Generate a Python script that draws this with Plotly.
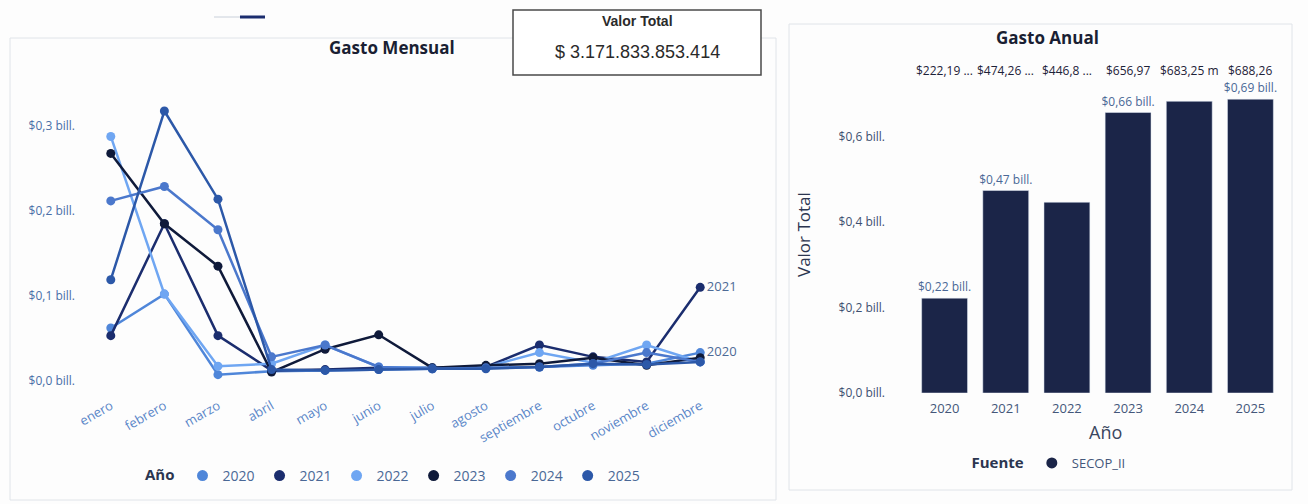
import plotly.graph_objects as go

W, H = 1308, 504

# monthly spend per year (billions of pesos)
meses = ["enero", "febrero", "marzo", "abril", "mayo", "junio", "julio",
         "agosto", "septiembre", "octubre", "noviembre", "diciembre"]
anios = ["2020", "2021", "2022", "2023", "2024", "2025"]
g2020 = [0.062, 0.102, 0.007, 0.011, 0.012, 0.013, 0.014, 0.015, 0.016, 0.018, 0.020, 0.033]
g2021 = [0.053, 0.185, 0.053, 0.012, 0.013, 0.015, 0.015, 0.016, 0.042, 0.028, 0.022, 0.110]
g2022 = [0.288, 0.102, 0.017, 0.020, 0.042, 0.016, 0.015, 0.016, 0.033, 0.021, 0.042, 0.022]
g2023 = [0.268, 0.185, 0.135, 0.010, 0.037, 0.054, 0.015, 0.018, 0.020, 0.027, 0.018, 0.027]
g2024 = [0.212, 0.229, 0.178, 0.028, 0.042, 0.016, 0.014, 0.015, 0.016, 0.020, 0.033, 0.022]
g2025 = [0.119, 0.318, 0.214, 0.013, 0.012, 0.013, 0.014, 0.014, 0.016, 0.020, 0.019, 0.022]
mensual = [g2020, g2021, g2022, g2023, g2024, g2025]
colores = ["#4f86d9", "#1b2d6e", "#6fa6f2", "#0f1a3a", "#4b78cc", "#2c58a8"]
etiqueta_fin = ["2020", "2021", "", "", "", ""]

# yearly totals
anual = [0.22219, 0.47426, 0.4468, 0.65697, 0.68325, 0.68826]
anual_txt = ["$0,22 bill.", "$0,47 bill.", "", "$0,66 bill.", "", "$0,69 bill."]
anual_top = ["$222,19 ...", "$474,26 ...", "$446,8 ...", "$656,97", "$683,25 m", "$688,26"]
valor_total = "$ 3.171.833.853.414"

ytick_m = [0, 0.1, 0.2, 0.3]
ytxt_m = ["$0,0 bill.", "$0,1 bill.", "$0,2 bill.", "$0,3 bill."]
ytick_a = [0, 0.2, 0.4, 0.6]
ytxt_a = ["$0,0 bill.", "$0,2 bill.", "$0,4 bill.", "$0,6 bill."]

FONT = "Open Sans"
px_x = lambda p: p / W
px_y = lambda p: 1 - p / H

fig = go.Figure()

for anio, vals, col, lab in zip(anios, mensual, colores, etiqueta_fin):
    txt = [""] * (len(meses) - 1) + [lab]
    fig.add_trace(go.Scatter(
        x=meses, y=vals, mode="lines+markers+text", name=anio,
        line=dict(color=col, width=2.5), marker=dict(color=col, size=9),
        text=txt, textposition="middle right",
        textfont=dict(family=FONT, size=13, color="#4d6a96"),
        showlegend=False, xaxis="x", yaxis="y", cliponaxis=False))
    # legend entry shown as a dot only
    fig.add_trace(go.Scatter(
        x=[None], y=[None], mode="markers", name=anio,
        marker=dict(color=col, size=11), legend="legend", xaxis="x", yaxis="y"))

fig.add_trace(go.Bar(
    x=anios, y=anual, marker_color="#1b2548", name="SECOP_II",
    text=anual_txt, textposition="outside", cliponaxis=False, constraintext="none",
    textfont=dict(family=FONT, size=12, color="#4a6896"),
    xaxis="x2", yaxis="y2", showlegend=False))
fig.add_trace(go.Scatter(
    x=[None], y=[None], mode="markers", name="SECOP_II",
    marker=dict(color="#1b2548", size=11), legend="legend2", xaxis="x2", yaxis="y2"))

# truncated total labels above the bars (category index, so "2020" isn't read as a number)
for i, t in enumerate(anual_top):
    fig.add_annotation(x=i, xref="x2", y=px_y(71), yref="paper", yanchor="middle",
                       text=t, showarrow=False,
                       font=dict(family=FONT, size=12, color="#1d2238"))

fig.update_layout(
    width=W, height=H, margin=dict(l=0, r=0, t=0, b=0, autoexpand=False),
    paper_bgcolor="#fdfdfd", plot_bgcolor="rgba(0,0,0,0)",
    font=dict(family=FONT, color="#4a6896"),
    bargap=0.25,
    xaxis=dict(domain=[px_x(84), px_x(727)], range=[-0.5, 11.5], tickangle=-30,
               anchor="y", automargin=False,
               showgrid=False, zeroline=False, showline=False, ticks="",
               tickfont=dict(size=13, color="#5a86c8")),
    yaxis=dict(domain=[px_y(395), px_y(100)], range=[-0.017, 0.331], anchor="x",
               automargin=False,
               tickvals=ytick_m, ticktext=ytxt_m, showgrid=False, zeroline=False,
               tickfont=dict(size=12, color="#4a6fa8"), ticklabelstandoff=8),
    xaxis2=dict(domain=[px_x(914), px_x(1281)], type="category", range=[-0.5, 5.5],
                anchor="y2", automargin=False, showgrid=False, zeroline=False,
                ticks="", ticklabelstandoff=6, tickfont=dict(size=13, color="#44577a")),
    yaxis2=dict(domain=[px_y(393), px_y(60)], range=[0, 0.78], anchor="x2",
                automargin=False,
                tickvals=ytick_a, ticktext=ytxt_a, showgrid=False, zeroline=False,
                tickfont=dict(size=12, color="#3d5070"), ticklabelstandoff=28),
    legend=dict(orientation="h", x=px_x(394), xanchor="center", y=px_y(476), yanchor="middle",
                title=dict(text="<b>Año</b>", font=dict(size=15, color="#2b3550")),
                font=dict(size=14, color="#4a6896"), itemwidth=30,
                bgcolor="rgba(0,0,0,0)"),
    legend2=dict(orientation="h", x=px_x(1050), xanchor="center", y=px_y(463), yanchor="middle",
                 title=dict(text="<b>Fuente</b>", font=dict(size=15, color="#2b3550")),
                 font=dict(size=13, color="#44577a"), itemwidth=30,
                 bgcolor="rgba(0,0,0,0)"),
)

# panel frames, KPI card and the slicer stub at the top
fig.add_shape(type="rect", xref="paper", yref="paper", x0=px_x(10), x1=px_x(776),
              y0=px_y(500), y1=px_y(38), line=dict(color="#e0e4e9", width=1))
fig.add_shape(type="rect", xref="paper", yref="paper", x0=px_x(789), x1=px_x(1292),
              y0=px_y(490), y1=px_y(24), line=dict(color="#e0e4e9", width=1))
fig.add_shape(type="rect", xref="paper", yref="paper", x0=px_x(513), x1=px_x(761),
              y0=px_y(75), y1=px_y(10), line=dict(color="#4a4a4a", width=1.5),
              fillcolor="#ffffff")
fig.add_shape(type="line", xref="paper", yref="paper", x0=px_x(214), x1=px_x(240),
              y0=px_y(17), y1=px_y(17), line=dict(color="#c9d0da", width=1))
fig.add_shape(type="line", xref="paper", yref="paper", x0=px_x(240), x1=px_x(265),
              y0=px_y(17), y1=px_y(17), line=dict(color="#1b2d6e", width=3))

notas = [
    (392, 47, "<b>Gasto Mensual</b>", 17, "#1a1f33", FONT, 0),
    (1047, 38, "<b>Gasto Anual</b>", 17, "#1a1f33", FONT, 0),
    (637, 21, "<b>Valor Total</b>", 14, "#2a2a2a", "Liberation Sans", 0),
    (637, 52, valor_total, 18, "#2a2a2a", "Liberation Sans", 0),
    (1105, 432, "Año", 18, "#3a4660", FONT, 0),
    (803, 235, "Valor Total", 17, "#2b3550", FONT, -90),
]
for x, y, t, s, c, f, ang in notas:
    fig.add_annotation(x=px_x(x), y=px_y(y), xref="paper", yref="paper", text=t,
                       xanchor="center", yanchor="middle",
                       showarrow=False, textangle=ang, font=dict(family=f, size=s, color=c))

# the page's default body margin would push the figure 8px off the window
fig.write_html("out.html", config={"displayModeBar": False},
               post_script="document.body.style.margin='0';")
